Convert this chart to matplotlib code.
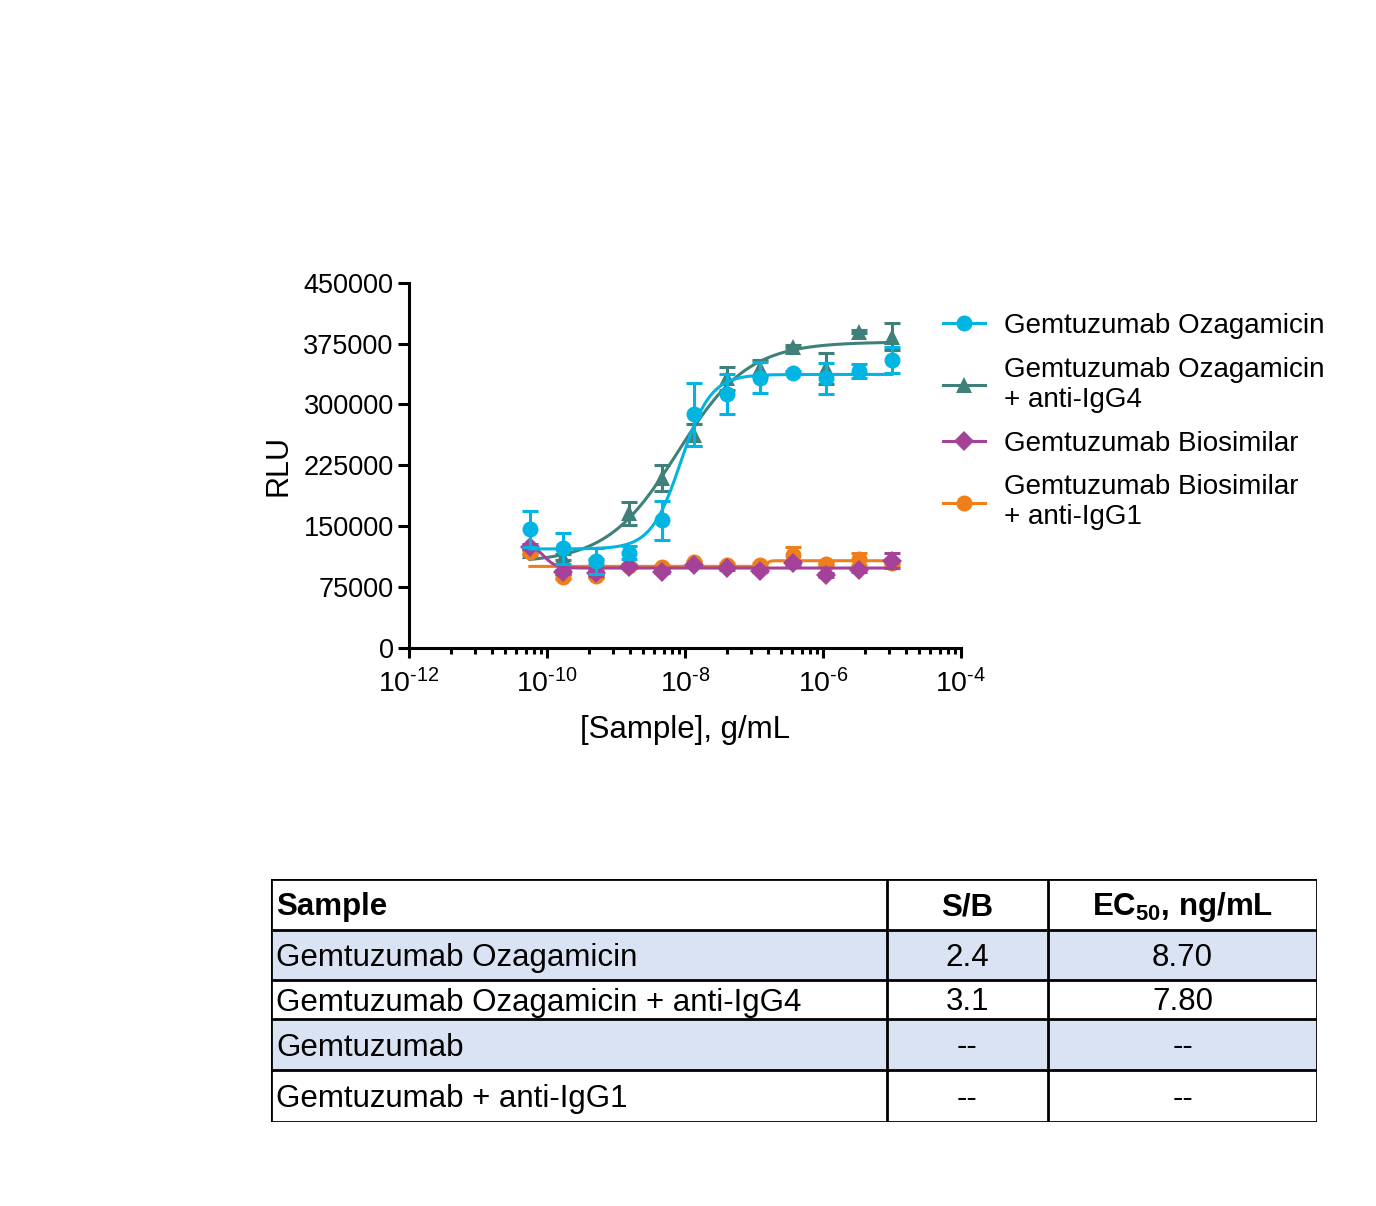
import numpy as np
import matplotlib
matplotlib.use("Agg")
import matplotlib.pyplot as plt
from matplotlib.lines import Line2D
from matplotlib.ticker import FixedLocator, FuncFormatter

plt.rcParams['font.family'] = ['Liberation Sans', 'DejaVu Sans']
plt.rcParams['mathtext.fontset'] = 'custom'
plt.rcParams['mathtext.rm'] = 'Liberation Sans'
plt.rcParams['mathtext.bf'] = 'Liberation Sans:bold'

# concentrations, g/mL (3-fold dilution from 10 ug/mL)
conc = [5.645e-11, 1.694e-10, 5.081e-10, 1.524e-9, 4.572e-9, 1.372e-8,
        4.115e-8, 1.235e-7, 3.704e-7, 1.111e-6, 3.333e-6, 1.0e-5]

labels = ["Gemtuzumab Ozagamicin", "Gemtuzumab Ozagamicin\n+ anti-IgG4",
          "Gemtuzumab Biosimilar", "Gemtuzumab Biosimilar\n+ anti-IgG1"]
colors = ["#00B5E2", "#3F807B", "#A4429A", "#EE7F1A"]
markers = ["o", "^", "D", "o"]

rlu_oza = [146600, 122800, 107200, 117400, 157100, 287900,
           312900, 333000, 339100, 332200, 341600, 354800]
err_oza = [22000, 19000, 16500, 8000, 23600, 39000,
           25000, 19000, 2000, 19000, 8600, 16000]
rlu_oza4 = [120000, 112000, 106000, 165900, 209000, 262400,
            332200, 344500, 371200, 344500, 389600, 383500]
err_oza4 = [4000, 4000, 4000, 14000, 16000, 13500,
            14000, 10000, 2000, 19000, 2000, 17000]
rlu_bio = [124800, 93600, 92000, 100000, 94000, 102000,
           98200, 95200, 104300, 89900, 96100, 107500]
err_bio = [3000, 3000, 3000, 2000, 2000, 2000,
           2000, 2000, 3000, 2000, 2000, 9500]
rlu_bio1 = [117900, 87800, 88700, 101000, 100100, 105600,
            102200, 102200, 114600, 103100, 109600, 104700]
err_bio1 = [3000, 3000, 3000, 2000, 2000, 2000,
            2000, 2000, 10000, 2000, 7000, 3000]

# 4PL fit parameters: bottom, top, EC50 (g/mL), hill
fit_oza = (122000, 337000, 8.7e-9, 2.0)
fit_oza4 = (105000, 377000, 7.8e-9, 0.85)
fit_bio = (128000, 98500, 9.0e-11, 5.0)
fit_bio1 = (100500, 107500, 1.55e-7, 20.0)

series = [(rlu_oza, err_oza, fit_oza), (rlu_oza4, err_oza4, fit_oza4),
          (rlu_bio, err_bio, fit_bio), (rlu_bio1, err_bio1, fit_bio1)]
zorders = [5, 2, 4, 3]

tbl_sample = ["Gemtuzumab Ozagamicin", "Gemtuzumab Ozagamicin + anti-IgG4",
              "Gemtuzumab", "Gemtuzumab + anti-IgG1"]
tbl_sb = ["2.4", "3.1", "--", "--"]
tbl_ec50 = ["8.70", "7.80", "--", "--"]


def four_pl(x, bottom, top, ec50, hill):
    return bottom + (top - bottom) / (1 + (ec50 / x) ** hill)


def decade(v, pos):
    e = int(round(np.log10(v)))
    return r"$\mathdefault{10^{\text{-}%d}}$" % abs(e)


fig = plt.figure(figsize=(13.76, 12.06), dpi=100)
ax = fig.add_axes([409 / 1376, 1 - 648 / 1206, 552 / 1376, 365.3 / 1206])

xs = np.logspace(np.log10(conc[0]), np.log10(conc[-1]), 400)
for (y, e, p), c, m, z in zip(series, colors, markers, zorders):
    ax.errorbar(conc, y, yerr=e, fmt='none', ecolor=c, elinewidth=2.2,
                capsize=6, capthick=2.2, zorder=z)
    ms = 10 if m == "D" else 11.5
    ax.plot(conc, y, linestyle='none', marker=m, color=c, markersize=ms,
            markeredgewidth=0, zorder=z)
    ax.plot(xs, four_pl(xs, *p), color=c, lw=2.2, zorder=z)

ax.set_xscale('log')
ax.set_xlim(1e-12, 1e-4)
ax.set_ylim(0, 450000)
ax.set_yticks(np.arange(0, 450001, 75000))
ax.set_yticklabels([str(v) for v in range(0, 450001, 75000)])
major = [10.0 ** p for p in range(-12, -3, 2)]
minor = [10.0 ** (p + 2 * np.log10(k)) for p in range(-12, -4, 2) for k in range(2, 10)]
ax.xaxis.set_major_locator(FixedLocator(major))
ax.xaxis.set_minor_locator(FixedLocator(minor))
ax.xaxis.set_major_formatter(FuncFormatter(decade))
ax.xaxis.set_minor_formatter(plt.NullFormatter())

for s in ['top', 'right']:
    ax.spines[s].set_visible(False)
for s in ['left', 'bottom']:
    ax.spines[s].set_linewidth(2.2)
ax.tick_params(axis='y', which='major', length=8, width=2.2, labelsize=19.5, pad=3)
ax.tick_params(axis='x', which='major', length=7, width=2.2, labelsize=20.5, pad=8)
ax.tick_params(axis='x', which='minor', length=4.5, width=2.2)
ax.set_xlabel("[Sample], g/mL", fontsize=22.5, labelpad=12)
ax.set_ylabel("RLU", fontsize=22, labelpad=7)

handles = [Line2D([], [], color=c, marker=m, lw=2.2, markersize=(10 if m == "D" else 11.5),
                  markeredgewidth=0) for c, m in zip(colors, markers)]
fig.legend(handles, labels, loc='upper left', bbox_to_anchor=(943 / 1376, 1 - 313 / 1206),
           frameon=False, fontsize=20, borderpad=0, borderaxespad=0,
           handlelength=1.5, handletextpad=0.7, labelspacing=0.64)

# results table
tax = fig.add_axes([271 / 1376, 1 - 1122 / 1206, 1046 / 1376, 243 / 1206])
tax.set_xlim(271, 1317)
tax.set_ylim(1122, 879)
tax.axis('off')
rows = [879, 930, 980, 1019, 1070, 1122]
cols = [271, 887, 1048, 1317]
for i in range(4):
    if i % 2 == 0:
        tax.axhspan(rows[i + 1], rows[i + 2], color="#DAE3F3", lw=0, zorder=0)
for r in rows:
    tax.plot([cols[0], cols[-1]], [r, r], color='black', lw=2, solid_capstyle='projecting', zorder=2)
for c in cols:
    tax.plot([c, c], [rows[0], rows[-1]], color='black', lw=2, solid_capstyle='projecting', zorder=2)

hy = (rows[0] + rows[1]) / 2 + 3
tax.text(cols[0] + 5, hy, "Sample", fontsize=22.5, fontweight='bold', va='center', ha='left')
tax.text((cols[1] + cols[2]) / 2, hy, "S/B", fontsize=22.5, fontweight='bold', va='center', ha='center')
tax.text((cols[2] + cols[3]) / 2, hy, r"EC$_\mathbf{50}$, ng/mL", fontsize=22.5,
         fontweight='bold', va='center', ha='center')
for i in range(4):
    cy = (rows[i + 1] + rows[i + 2]) / 2 + 3
    tax.text(cols[0] + 5, cy, tbl_sample[i], fontsize=22.5, va='center', ha='left')
    tax.text((cols[1] + cols[2]) / 2, cy, tbl_sb[i], fontsize=22.5, va='center', ha='center')
    tax.text((cols[2] + cols[3]) / 2, cy, tbl_ec50[i], fontsize=22.5, va='center', ha='center')

fig.savefig("out.png", dpi=100)
